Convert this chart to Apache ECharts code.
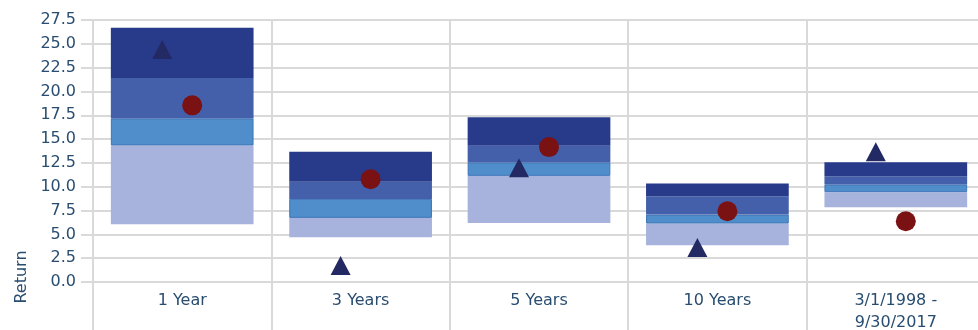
<!DOCTYPE html>
<html>
<head>
<meta charset="utf-8">
<script src="https://cdn.jsdelivr.net/npm/echarts@6/dist/echarts.min.js"></script>
<style>
html,body{margin:0;padding:0;background:#fff;}
#chart{width:978px;height:330px;}
</style>
</head>
<body>
<div id="chart"></div>
<script>
// Categories
var categories = ['1 Year', '3 Years', '5 Years', '10 Years', '3/1/1998 -\n9/30/2017'];
// Range boundaries (bottom to top)
var pct5  = [6.06, 4.70, 6.20, 3.86, 7.85];
var pct25 = [14.33, 6.73, 11.14, 6.14, 9.43];
var pct50 = [17.17, 8.72, 12.55, 7.08, 10.24];
var pct75 = [21.41, 10.51, 14.29, 9.01, 11.11];
var pct95 = [26.69, 13.66, 17.28, 10.34, 12.58];
// Markers
var triangleValues = [24.4, 1.72, 12.0, 3.61, 13.66];
var circleValues = [18.54, 10.79, 14.16, 7.43, 6.38];
// Y axis ticks
var yMin = 0, yMax = 27.5, yStep = 2.5;

function diff(a, b) { return a.map(function (v, i) { return +(v - b[i]).toFixed(2); }); }

var textColor = '#294d70';
var gridColor = '#d9d9d9';
var font = 'DejaVu Sans';

var chart = echarts.init(document.getElementById('chart'), null, {renderer: 'canvas'});

var barBase = {type: 'bar', stack: 'range', barCategoryGap: '20%', silent: true};

chart.setOption({
  animation: false,
  backgroundColor: '#ffffff',
  grid: {left: 93, top: 20, width: 892, height: 262, outerBoundsMode: 'none', containLabel: false},
  xAxis: {
    type: 'category',
    data: categories,
    boundaryGap: true,
    axisLine: {show: true, lineStyle: {color: gridColor, width: 2}},
    axisTick: {show: true, length: 50, lineStyle: {color: gridColor, width: 2}},
    splitLine: {show: true, lineStyle: {color: gridColor, width: 2}},
    axisLabel: {color: textColor, fontFamily: font, fontSize: 16, margin: 8, lineHeight: 22, interval: 0}
  },
  yAxis: {
    type: 'value',
    min: yMin, max: yMax, interval: yStep,
    axisLine: {show: false},
    axisTick: {show: true, length: 12, lineStyle: {color: gridColor, width: 2}},
    splitLine: {show: true, lineStyle: {color: gridColor, width: 2}},
    axisLabel: {color: textColor, fontFamily: font, fontSize: 16, margin: 17,
      formatter: function (v) { return v.toFixed(1); }}
  },
  graphic: [{
    type: 'text', x: 22, y: 277, rotation: Math.PI / 2,
    style: {text: 'Return', fill: textColor, font: '16px "DejaVu Sans"', align: 'center', verticalAlign: 'middle'}
  }],
  series: [
    Object.assign({}, barBase, {name: 'base', data: pct5, itemStyle: {color: 'rgba(0,0,0,0)'}}),
    Object.assign({}, barBase, {name: '5-25', data: diff(pct25, pct5), itemStyle: {color: '#a7b3dc'}}),
    Object.assign({}, barBase, {name: '25-50', data: diff(pct50, pct25), itemStyle: {color: '#4f8dcb', borderColor: '#3f76b8', borderWidth: 1}}),
    Object.assign({}, barBase, {name: '50-75', data: diff(pct75, pct50), itemStyle: {color: '#4560aa'}}),
    Object.assign({}, barBase, {name: '75-95', data: diff(pct95, pct75), itemStyle: {color: '#283b8a'}}),
    {type: 'scatter', name: 'triangle', data: triangleValues, symbol: 'triangle', symbolSize: [20, 19],
      symbolOffset: [-20, 0], itemStyle: {color: '#232a63', opacity: 1}, z: 5},
    {type: 'scatter', name: 'circle', data: circleValues, symbol: 'circle', symbolSize: 20,
      symbolOffset: [10, 0], itemStyle: {color: '#7a1113', opacity: 1}, z: 5}
  ]
});
</script>
</body>
</html>
